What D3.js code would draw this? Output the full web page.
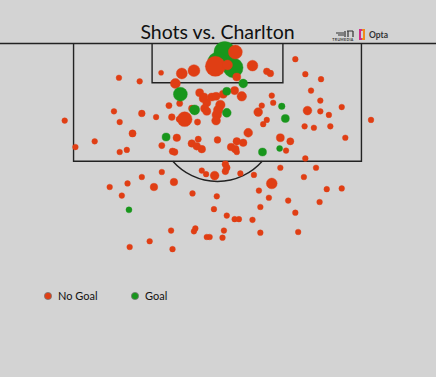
<!DOCTYPE html>
<html lang="en">
<head>
<meta charset="utf-8">
<title>Shots vs. Charlton</title>
<style>
  body {
    margin: 0;
    padding: 0;
    background: #d3d3d3;
  }

  #chart {
    display: block;
  }
</style>
</head>
<body>
<svg id="chart"></svg>
<script src="https://cdn.jsdelivr.net/npm/d3@7"></script>
<script>
// shots as [metres from centre (left -), metres from goal line, xG]
const noGoalShots = [
  [-21.4,10.8,0.025],[-19.9,14.5,0.025],[-17.2,13.7,0.025],[-13.8,4.8,0.025],[-10.9,5.3,0.025],
  [-7.9,4.1,0.02],[-14.5,9.5,0.025],[-10.6,9.8,0.035],[-13.7,11.0,0.025],[-8.6,10.3,0.025],
  [-11.9,12.6,0.04],[-13.7,15.2,0.025],[-12.7,14.9,0.025],[-7.8,14.3,0.03],[-6.4,10.3,0.035],
  [-6.8,8.7,0.03],[-5.3,8.4,0.03],[-5.9,5.6,0.077],[-5.0,4.2,0.093],[-3.3,3.8,0.11],
  [-5.4,10.6,0.025],[-4.6,10.6,0.17],[-3.6,9.1,0.035],[-2.8,11.0,0.03],[-5.7,13.2,0.045],
  [-6.3,15.1,0.035],[-6.0,15.2,0.035],[-3.6,14.0,0.045],[-2.9,14.4,0.045],[-2.2,14.8,0.045],
  [-2.7,13.4,0.03],
  [-2.5,6.9,0.05],[-2.0,7.7,0.05],[-1.5,8.3,0.05],[-0.8,7.5,0.05],[-0.2,7.4,0.05],
  [0.8,7.1,0.05],[2.4,6.6,0.05],[3.4,7.4,0.07],[-1.9,7.5,0.05],[-1.8,9.1,0.05],[-1.5,9.5,0.05],
  [0.4,8.6,0.07],[0.1,9.3,0.07],[-0.1,10.0,0.07],[-0.2,10.8,0.06],[0.0,13.5,0.035],
  [-0.3,3.2,0.31],[2.5,1.2,0.15],[1.4,3.0,0.077],[4.9,3.1,0.09],[6.9,3.9,0.035],[7.4,4.2,0.035],
  [2.7,4.7,0.05],[10.9,2.2,0.025],
  [12.3,4.3,0.025],[14.5,5.0,0.025],[13.1,6.6,0.025],[14.4,8.0,0.025],[17.4,8.9,0.025],
  [21.5,10.7,0.025],[14.4,9.5,0.025],[15.6,10.0,0.025],[12.6,9.4,0.06],[12.2,11.6,0.025],
  [13.5,11.8,0.025],[15.8,11.6,0.025],[17.9,13.2,0.025],[7.6,7.3,0.025],[7.8,8.3,0.025],
  [6.2,8.7,0.025],[5.7,9.6,0.06],[6.9,10.7,0.025],[6.4,11.3,0.025],[4.3,12.5,0.06],
  [8.8,13.2,0.05],[10.2,13.7,0.04],[9.6,15.0,0.025],[12.3,16.1,0.025],
  [1.9,14.5,0.045],[2.5,14.8,0.045],[2.7,13.7,0.045],[3.6,13.9,0.045],[2.7,15.2,0.025],
  [1.1,16.9,0.035],[1.3,17.4,0.035],[1.1,17.9,0.035],[-2.2,17.8,0.025],[-1.6,18.3,0.025],
  [-0.4,18.5,0.06],[3.2,18.2,0.025],[5.1,18.4,0.025],[-7.8,18.0,0.025],[-6.1,19.4,0.045],
  [-3.5,21.0,0.025],[-15.1,20.1,0.025],[-12.6,19.6,0.025],[-10.6,18.7,0.025],[-8.9,20.1,0.045],
  [-13.4,21.3,0.025],[-0.1,21.4,0.025],[-0.5,23.2,0.025],[1.3,24.1,0.025],[2.4,24.6,0.025],
  [3.0,24.6,0.025],[4.9,24.7,0.025],[8.8,17.4,0.025],[13.8,17.4,0.025],[12.1,18.7,0.025],
  [7.6,19.6,0.09],[5.8,20.6,0.025],[7.2,21.6,0.025],[9.9,22.0,0.025],[15.3,20.4,0.025],
  [17.4,20.3,0.025],[14.3,22.2,0.025],[6.0,22.9,0.025],[10.9,23.7,0.025],
  [-6.5,26.2,0.025],[-3.3,26.3,0.025],[-3.1,25.9,0.025],[-1.5,27.1,0.025],[-1.1,27.1,0.025],
  [0.9,26.2,0.025],[0.7,27.2,0.025],[6.0,26.5,0.025],[11.3,26.4,0.025],[-9.5,27.7,0.025],
  [-12.3,28.5,0.025],[-6.3,28.8,0.025]
];

const goalShots = [
  [1.0,1.2,0.35],[0.0,2.6,0.3],[2.2,3.4,0.3],
  [-5.2,7.1,0.15],[-3.2,9.3,0.077],[-7.2,13.1,0.05],[1.3,6.7,0.05],[1.3,9.7,0.06],
  [3.6,5.6,0.06],[9.0,8.8,0.033],[9.5,10.5,0.05],[8.7,14.7,0.028],[6.3,15.2,0.05],
  [-12.4,23.3,0.028]
];

const titleText = 'Shots vs. Charlton';
const legendLabels = ['No Goal', 'Goal'];
const legendColors = ['#e03e14', '#18961c'];

// pitch markings in metres
const boxHalfWidth = 20.16, boxDepth = 16.5;
const sixHalfWidth = 9.16, sixDepth = 5.5;
const spotDepth = 11, arcRadius = 8.33;

const width = 436, height = 377;
const pxPerM = 7.14, centreX = 217.5, goalY = 43.5;

const svg = d3.select('#chart')
  .attr('width', width)
  .attr('height', height);

svg.append('rect')
  .attr('width', width)
  .attr('height', height)
  .attr('fill', '#d3d3d3');

const x = d3.scaleLinear()
  .domain([-34, 34])
  .range([centreX - 34 * pxPerM, centreX + 34 * pxPerM]);
const y = d3.scaleLinear()
  .domain([0, 50])
  .range([goalY, goalY + 50 * pxPerM]);
const r = d3.scaleSqrt().domain([0, 1]).range([0, 18]);

// markings
const lines = svg.append('g')
  .attr('fill', 'none')
  .attr('stroke', '#222')
  .attr('stroke-width', 1.4);

lines.append('line')
  .attr('x1', 0).attr('x2', width)
  .attr('y1', y(0)).attr('y2', y(0));

lines.append('path')
  .attr('d', d3.line()([
    [x(-boxHalfWidth), y(0)], [x(-boxHalfWidth), y(boxDepth)],
    [x(boxHalfWidth), y(boxDepth)], [x(boxHalfWidth), y(0)]
  ]));

lines.append('path')
  .attr('d', d3.line()([
    [x(-sixHalfWidth), y(0)], [x(-sixHalfWidth), y(sixDepth)],
    [x(sixHalfWidth), y(sixDepth)], [x(sixHalfWidth), y(0)]
  ]));

const arcR = x(arcRadius) - x(0);
const a0 = Math.asin((y(boxDepth) - y(spotDepth)) / arcR);
const arcPath = d3.path();
arcPath.arc(x(0), y(spotDepth), arcR, a0, Math.PI - a0);
lines.append('path').attr('d', arcPath.toString());

// shots
const shots = svg.append('g');

function drawShots(data, color) {
  shots.selectAll(null)
    .data(data)
    .join('circle')
    .attr('cx', d => x(d[0]))
    .attr('cy', d => y(d[1]))
    .attr('r', d => r(d[2]))
    .attr('fill', color)
    .attr('stroke', color)
    .attr('stroke-opacity', 0.5)
    .attr('stroke-width', 0.8);
}

drawShots(goalShots.slice(0, 3), legendColors[1]);
drawShots(noGoalShots, legendColors[0]);
drawShots(goalShots.slice(3), legendColors[1]);

// title
svg.append('text')
  .attr('x', centreX)
  .attr('y', 39)
  .attr('text-anchor', 'middle')
  .attr('font-family', 'Lato, sans-serif')
  .attr('font-size', 19.5)
  .attr('fill', '#111')
  .text(titleText);

// logos
const logo = svg.append('g');
logo.append('path')
  .attr('d', 'M336,33 h8 M338,35 h6 M345,31 v6 M348,31 v6 M347,31 h6 M353,31 v6')
  .attr('stroke', '#333')
  .attr('stroke-width', 1.2)
  .attr('fill', 'none');
logo.append('text')
  .attr('x', 343).attr('y', 41)
  .attr('text-anchor', 'middle')
  .attr('font-family', 'Lato, sans-serif')
  .attr('font-size', 3.6)
  .attr('font-weight', 700)
  .attr('letter-spacing', 0.3)
  .attr('fill', '#333')
  .text('TRUMEDIA');
logo.append('path')
  .attr('d', 'M362,30 h-2 v9 h2')
  .attr('stroke', '#d02a8a')
  .attr('stroke-width', 2)
  .attr('fill', 'none');
logo.append('path')
  .attr('d', 'M362,30 h2 v9 h-2')
  .attr('stroke', '#f08a1c')
  .attr('stroke-width', 2)
  .attr('fill', 'none');
logo.append('text')
  .attr('x', 369).attr('y', 38)
  .attr('font-family', 'Lato, sans-serif')
  .attr('font-size', 8.5)
  .attr('font-weight', 700)
  .attr('fill', '#333')
  .text('Opta');

// legend
const legend = svg.append('g')
  .selectAll('g')
  .data(legendLabels)
  .join('g')
  .attr('transform', (d, i) => `translate(${48 + i * 87},296)`);

legend.append('circle')
  .attr('r', 3.6)
  .attr('fill', (d, i) => legendColors[i])
  .attr('stroke', '#777')
  .attr('stroke-width', 0.8);

legend.append('text')
  .attr('x', 10)
  .attr('y', 4)
  .attr('font-family', 'Lato, sans-serif')
  .attr('font-size', 11)
  .attr('fill', '#111')
  .text(d => d);
</script>
</body>
</html>
